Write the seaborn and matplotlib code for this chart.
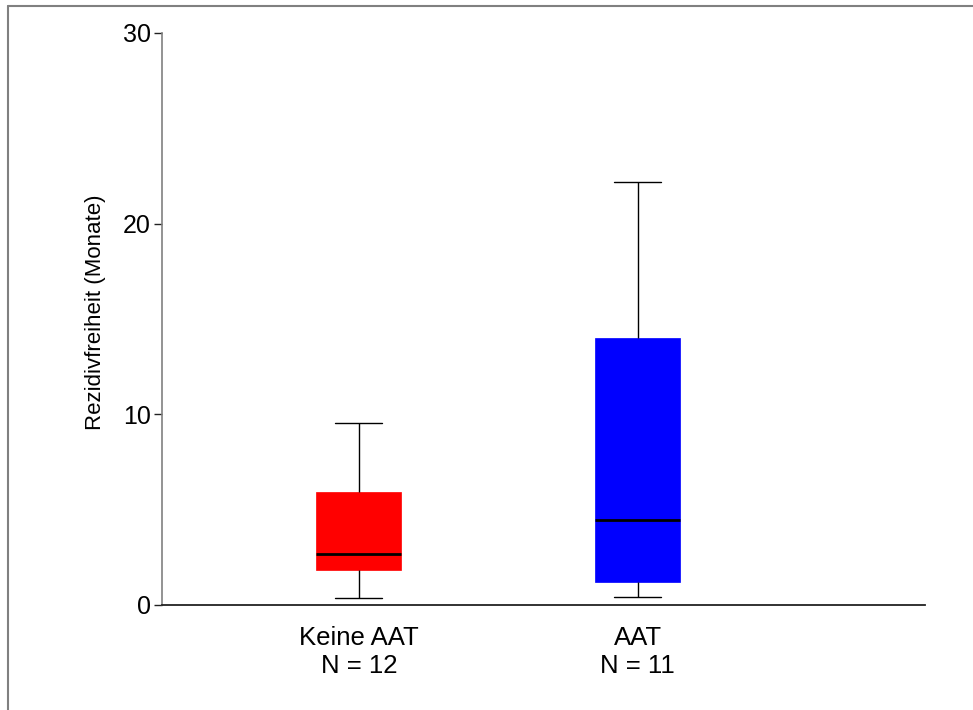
import matplotlib
matplotlib.use("Agg")
import matplotlib.pyplot as plt
import seaborn as sns
import pandas as pd
from matplotlib.lines import Line2D

# ---- data ----
groups = ["Keine AAT", "AAT"]
group_n = [12, 11]
# five summary values per group: lower whisker, Q1, median, Q3, upper whisker
keine_aat_values = [0.37, 1.85, 2.66, 5.93, 9.53]
aat_values = [0.40, 1.19, 4.44, 14.0, 22.2]
box_colors = ["#ff0000", "#0000ff"]
y_ticks = [0, 10, 20, 30]
y_label = "Rezidivfreiheit (Monate)"

tick_labels = [f"{g}\nN = {n}" for g, n in zip(groups, group_n)]
df = pd.DataFrame({
    "Gruppe": [tick_labels[0]] * len(keine_aat_values) + [tick_labels[1]] * len(aat_values),
    "Monate": keine_aat_values + aat_values,
})

sns.set_style("white")
plt.rcParams["font.family"] = ["Liberation Sans", "DejaVu Sans"]
plt.rcParams["text.color"] = "black"
plt.rcParams["axes.labelcolor"] = "black"
plt.rcParams["xtick.color"] = "black"
plt.rcParams["ytick.color"] = "black"

fig = plt.figure(figsize=(9.73, 7.10), dpi=100)
ax = fig.add_axes([162 / 973, 1 - 605 / 710, (925 - 162) / 973, (605 - 33) / 710])

sns.boxplot(
    data=df, x="Gruppe", y="Monate", hue="Gruppe", order=tick_labels,
    hue_order=tick_labels, palette=box_colors, saturation=1, legend=False,
    width=0.305, linecolor="black", linewidth=1.0, whis=1.5,
    capwidths=0.168, showfliers=False,
    medianprops=dict(color="black", linewidth=2.0),
    ax=ax,
)
for p in ax.patches:
    p.set_edgecolor(p.get_facecolor())
    p.set_linewidth(0.5)

ax.set_xlim(-0.706, 2.03)
ax.set_ylim(0, 30)
ax.set_yticks(y_ticks)
ax.set_yticklabels([str(t) for t in y_ticks], fontsize=18, color="black")
ax.set_xticks(range(len(tick_labels)))
ax.set_xticklabels(tick_labels, fontsize=18.5, linespacing=1.2, color="black")
ax.set_xlabel("")
ax.set_ylabel(y_label, fontsize=16, color="black")
ax.yaxis.set_label_coords(-0.074, 0.512)

for s in ["top", "right"]:
    ax.spines[s].set_visible(False)
ax.spines["left"].set_color("#808080")
ax.spines["left"].set_linewidth(1.2)
ax.spines["bottom"].set_color("#222222")
ax.spines["bottom"].set_linewidth(1.3)
ax.tick_params(axis="y", which="major", direction="out", length=6, width=1.0,
               color="#222222", left=True, pad=2)
ax.tick_params(axis="x", which="major", length=0, pad=15)

# figure frame (left and top edges)
fig.add_artist(Line2D([7.5 / 973, 7.5 / 973], [0, 1 - 5.5 / 710],
                      transform=fig.transFigure, color="#808080", linewidth=1.5))
fig.add_artist(Line2D([7.5 / 973, 1], [1 - 5.5 / 710, 1 - 5.5 / 710],
                      transform=fig.transFigure, color="#808080", linewidth=1.5))

fig.savefig("out.png", dpi=100)
